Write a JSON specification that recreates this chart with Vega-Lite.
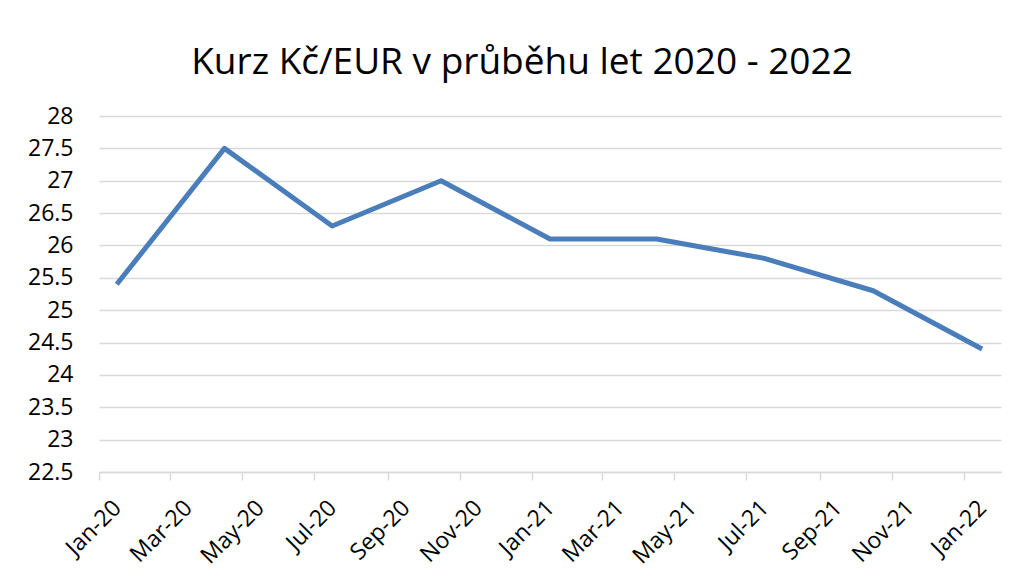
{
  "$schema": "https://vega.github.io/schema/vega-lite/v6.json",
  "width": 902,
  "height": 356,
  "autosize": "none",
  "padding": {"left": 99, "top": 116, "right": 19, "bottom": 108},
  "background": "white",
  "config": {"font": "Open Sans", "view": {"stroke": null}},
  "title": {
    "text": "Kurz Kč/EUR v průběhu let 2020 - 2022",
    "fontSize": 37,
    "fontWeight": "normal",
    "color": "#000000",
    "anchor": "middle",
    "dx": -28,
    "dy": 45,
    "offset": 39,
    "baseline": "alphabetic"
  },
  "data": {
    "values": [
      {"month": "2020-01-16", "kurz": 25.4},
      {"month": "2020-04-16", "kurz": 27.5},
      {"month": "2020-07-16", "kurz": 26.3},
      {"month": "2020-10-16", "kurz": 27.0},
      {"month": "2021-01-16", "kurz": 26.1},
      {"month": "2021-04-16", "kurz": 26.1},
      {"month": "2021-07-16", "kurz": 25.8},
      {"month": "2021-10-16", "kurz": 25.3},
      {"month": "2022-01-16", "kurz": 24.4}
    ]
  },
  "mark": {"type": "line", "color": "#4a7ebb", "strokeWidth": 5, "strokeJoin": "round"},
  "encoding": {
    "x": {
      "field": "month",
      "type": "temporal",
      "scale": {
        "type": "utc",
        "domain": [
          {"year": 2020, "month": 1, "date": 1, "utc": true},
          {"year": 2022, "month": 2, "date": 1, "utc": true}
        ]
      },
      "axis": {
        "title": null,
        "grid": false,
        "format": "%b-%y",
        "tickCount": {"interval": "month", "step": 2},
        "domainColor": "#d9d9d9",
        "domainWidth": 1.5,
        "tickColor": "#d9d9d9",
        "tickWidth": 1.5,
        "tickSize": 8,
        "labelAngle": -45,
        "labelAlign": "right",
        "labelBaseline": "middle",
        "labelFontSize": 23,
        "labelColor": "#000000",
        "labelPadding": 24,
        "labelOffset": 18,
        "labelOverlap": false,
        "labelBound": false,
        "labelFlush": false
      }
    },
    "y": {
      "field": "kurz",
      "type": "quantitative",
      "scale": {"domain": [22.5, 28], "zero": false, "nice": false},
      "axis": {
        "title": null,
        "values": [22.5, 23, 23.5, 24, 24.5, 25, 25.5, 26, 26.5, 27, 27.5, 28],
        "labelExpr": "'' + datum.value",
        "domain": false,
        "ticks": false,
        "grid": true,
        "gridColor": "#d9d9d9",
        "gridWidth": 1.5,
        "labelFontSize": 23,
        "labelColor": "#000000",
        "labelPadding": 26
      }
    }
  }
}
